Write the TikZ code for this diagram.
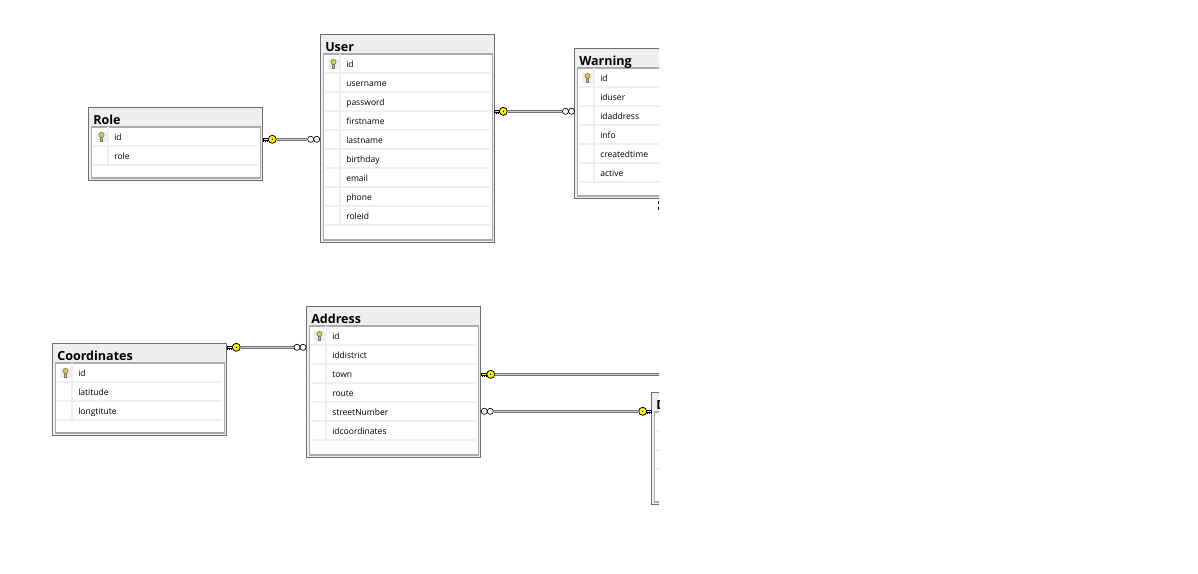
\documentclass[tikz,border=0pt]{standalone}
\usepackage{fontspec}
\setmainfont{Open Sans}
\usetikzlibrary{positioning, calc}
\definecolor{titlegray}{HTML}{EFEFEF}
\definecolor{rowgray}{HTML}{F0F0F0}
\definecolor{framegray}{HTML}{6E6E6E}
\definecolor{innergray}{HTML}{ABABAB}
\definecolor{keyyellow}{HTML}{FFF200}
\definecolor{iconyellow}{HTML}{D6CC3A}

\begin{document}
\begin{tikzpicture}[x = 0.75pt, y = -0.75pt]

\tikzset{
tablebox/.style = {rectangle, draw = framegray, fill = titlegray, line width = 0.75pt,
	anchor = north west, inner sep = 0pt, outer sep = 0pt, minimum width = 130.2pt},
tabletitle/.style = {anchor = base west, inner sep = 0pt, font = \fontsize{9.4}{12}\bfseries},
field/.style = {anchor = base west, inner sep = 0pt, font = \fontsize{6.4}{8}\selectfont},
innerbox/.style = {draw = innergray, fill = white, line width = 0.9pt},
rowline/.style = {draw = rowgray, line width = 0.8pt},
relation/.style = {draw = black!55, double = black!20, double distance = 0.6pt, line width = 0.75pt},
keyhead/.style = {circle, draw = black, fill = keyyellow, line width = 0.6pt,
	inner sep = 0pt, minimum size = 6pt},
manyring/.style = {circle, draw = black, fill = white, line width = 0.5pt,
	inner sep = 0pt, minimum size = 4.6pt},
pics/relkey/.style = {code = {
	\draw [fill = keyyellow, line width = 0.45pt] (-9, -1.2) -- (-2, -1.2) -- (-2, 1) -- (-9, 1) -- cycle;
	\draw [line width = 0.8pt, dash pattern = on 0.75pt off 0.75pt] (-9, 1.8) -- (-4, 1.8);
	\node [keyhead] (-c) at (0, 0) {};
	\fill (0, 0) circle (0.5pt);
}},
pics/relmany/.style = {code = {
	\node [manyring] (-a) at (-3, 0) {};
	\node [manyring] (-b) at (3, 0) {};
}},
pics/tablekey/.style = {code = {
	\fill [titlegray] (-5.5, -5) rectangle (5.5, 5);
	\draw [draw = black!55, fill = iconyellow, line width = 0.4pt] (-1, -1) rectangle (1, 4);
	\draw [draw = black!55, fill = iconyellow, line width = 0.4pt] (0, -2) circle (2.6);
}},
}

\useasboundingbox (0, 0) rectangle (1198, 574);

\begin{scope}
\clip (0, 0) rectangle (659, 574);

%% Tables
\foreach \tname/\ttitle/\xa/\ya/\hh/\rows in {
	role/Role/89/108/72/{id,role},
	user/User/321/35/207/{id,username,password,firstname,lastname,birthday,email,phone,roleid},
	warning/Warning/575/49/149/{id,iduser,idaddress,info,createdtime,active},
	coordinates/Coordinates/53/344/91/{id,latitude,longtitute},
	address/Address/307/307/150/{id,iddistrict,town,route,streetNumber,idcoordinates},
	district/D/652/393/111/{{},{},{}}}
{
	\node at ({\xa-0.6}, {\ya-0.6}) [tablebox, minimum height = {(\hh+0.6)*0.75pt}] (\tname) {};
	\draw [innerbox] ({\xa+2.2}, {\ya+19}) rectangle ({\xa+171.5}, {\ya+\hh-2});
	\node at ({\xa+4}, {\ya+16.5}) [tabletitle] (\tname-title) {\ttitle};
	\pic at ({\xa+12.5}, {\ya+29}) {tablekey};
	% Fields
	\foreach \fname [count = \i] in \rows {
		\node at ({\xa+25}, {\ya+19*\i+13.6}) [field] (\tname-\i) {\fname};
		\draw [rowline] ({\xa+4}, {\ya+19+19*\i}) -- ({\xa+169}, {\ya+19+19*\i});
		\draw [rowline] ({\xa+19}, {\ya+19*\i}) -- ({\xa+19}, {\ya+19+19*\i});
	}
}

%% Relations
% Role, User
\pic (rolekey) at (272.3, 139.3) {relkey};
\pic (usermany) at (313.7, 139.3) {relmany};
\draw [relation] (rolekey-c) -- (usermany-a);

% User, Warning
\pic (userkey) at (503.3, 111.3) {relkey};
\pic (warningmany) at (568.5, 111.3) {relmany};
\draw [relation] (userkey-c) -- (warningmany-a);

% Coordinates, Address
\pic (coordkey) at (236.3, 347.3) {relkey};
\pic (addressmany) at (300, 347.3) {relmany};
\draw [relation] (coordkey-c) -- (addressmany-a);

% Address, off to the right
\pic (addresskey) at (490.7, 374.3) {relkey};
\coordinate (offright) at (665, 374.3);
\draw [relation] (addresskey-c) -- (offright);

% District, Address
\pic (districtmany) at (487.3, 411.3) {relmany};
\pic [xscale = -1] (districtkey) at (642.7, 411.3) {relkey};
\draw [relation] (districtmany-b) -- (districtkey-c);

% Edge ticks
\coordinate (ticktop) at (658.2, 201);
\coordinate (tickend) at (658.2, 210);
\draw [line width = 0.9pt, dash pattern = on 2.2pt off 2.2pt] (ticktop) -- (tickend);

\end{scope}

\end{tikzpicture}
\end{document}
